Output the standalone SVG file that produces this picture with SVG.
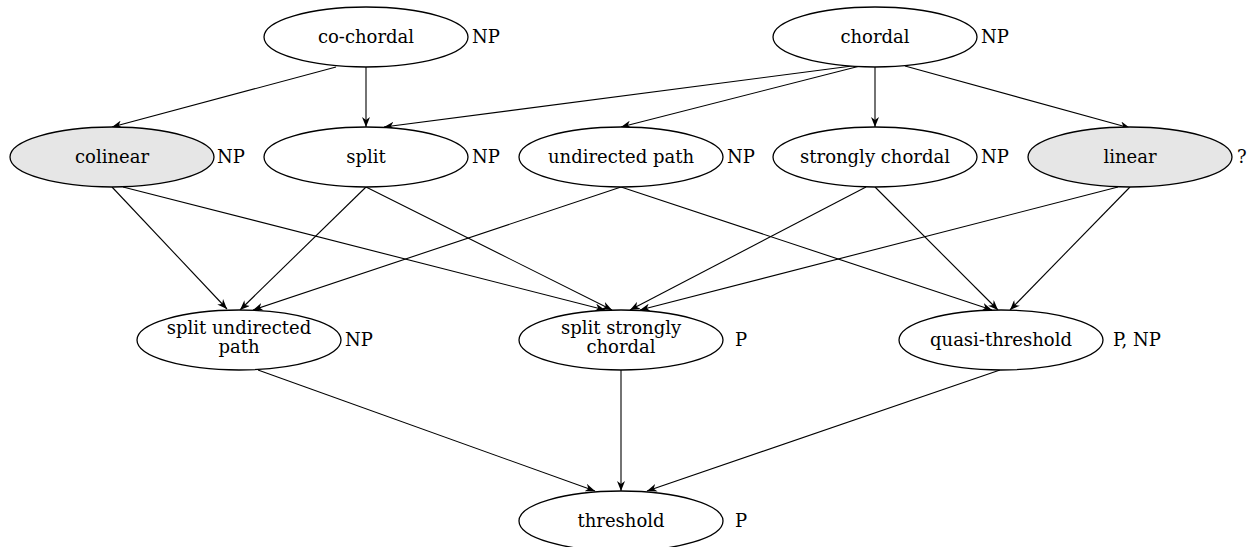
<svg xmlns="http://www.w3.org/2000/svg" width="1256" height="547" viewBox="0 0 1256 547">
<defs>
<marker id="arr" viewBox="0 0 10 8" refX="10" refY="4" markerWidth="10" markerHeight="8" markerUnits="userSpaceOnUse" orient="auto">
<path d="M0,0 L10,4 L0,8 L3,4 Z" fill="#000"/>
</marker>
</defs>
<style>
.n ellipse{fill:#fff;stroke:#000;stroke-width:1.3}
.g ellipse{fill:#e6e6e6}
text{font-family:"DejaVu Serif",serif;font-size:18px;fill:#000}
.c{text-anchor:middle}
#edges line{stroke:#000;stroke-width:1.1;marker-end:url(#arr)}
</style>
<rect width="1256" height="547" fill="#fff"/>
<g id="edges">
<line x1="336" y1="67" x2="112" y2="127"/>
<line x1="366" y1="67" x2="366" y2="127"/>
<line x1="852" y1="66" x2="384" y2="127"/>
<line x1="860" y1="66" x2="621" y2="127"/>
<line x1="875" y1="67" x2="875" y2="127"/>
<line x1="905" y1="66" x2="1130" y2="128"/>
<line x1="112" y1="187" x2="227" y2="309"/>
<line x1="123" y1="187" x2="605" y2="310"/>
<line x1="366" y1="187" x2="240" y2="310"/>
<line x1="366" y1="187" x2="612" y2="310"/>
<line x1="621" y1="187" x2="253" y2="310"/>
<line x1="621" y1="187" x2="992" y2="310"/>
<line x1="866" y1="187" x2="630" y2="310"/>
<line x1="875" y1="187" x2="998" y2="310"/>
<line x1="1118" y1="187" x2="640" y2="310"/>
<line x1="1130" y1="187" x2="1010" y2="310"/>
<line x1="258" y1="370" x2="595" y2="491"/>
<line x1="621" y1="370" x2="621" y2="491"/>
<line x1="1000" y1="370" x2="647" y2="491"/>
</g>
<g id="cochordal" class="n"><ellipse cx="366" cy="37" rx="102" ry="30"/><text class="c" x="366" y="43">co-chordal</text><text x="472" y="43">NP</text></g>
<g id="chordal" class="n"><ellipse cx="875" cy="37" rx="102" ry="30"/><text class="c" x="875" y="43">chordal</text><text x="981" y="43">NP</text></g>
<g id="colinear" class="n g"><ellipse cx="112" cy="157" rx="102" ry="30"/><text class="c" x="112" y="163">colinear</text><text x="217" y="163">NP</text></g>
<g id="split" class="n"><ellipse cx="366" cy="157" rx="102" ry="30"/><text class="c" x="366" y="163">split</text><text x="472" y="163">NP</text></g>
<g id="undirectedpath" class="n"><ellipse cx="621" cy="157" rx="102" ry="30"/><text class="c" x="621" y="163">undirected path</text><text x="727" y="163">NP</text></g>
<g id="stronglychordal" class="n"><ellipse cx="875" cy="157" rx="102" ry="30"/><text class="c" x="875" y="163">strongly chordal</text><text x="981" y="163">NP</text></g>
<g id="linear" class="n g"><ellipse cx="1130" cy="157" rx="102" ry="30"/><text class="c" x="1130" y="163">linear</text><text x="1237" y="163">?</text></g>
<g id="splitundirectedpath" class="n"><ellipse cx="239" cy="340" rx="102" ry="30"/><text class="c" x="239" y="334">split undirected</text><text class="c" x="239" y="353">path</text><text x="345" y="346">NP</text></g>
<g id="splitstronglychordal" class="n"><ellipse cx="621" cy="340" rx="102" ry="30"/><text class="c" x="621" y="334">split strongly</text><text class="c" x="621" y="353">chordal</text><text x="735" y="346">P</text></g>
<g id="quasithreshold" class="n"><ellipse cx="1001" cy="340" rx="102" ry="30"/><text class="c" x="1001" y="346">quasi-threshold</text><text x="1113" y="346">P, NP</text></g>
<g id="threshold" class="n"><ellipse cx="621" cy="521" rx="102" ry="30"/><text class="c" x="621" y="527">threshold</text><text x="735" y="527">P</text></g>
</svg>
